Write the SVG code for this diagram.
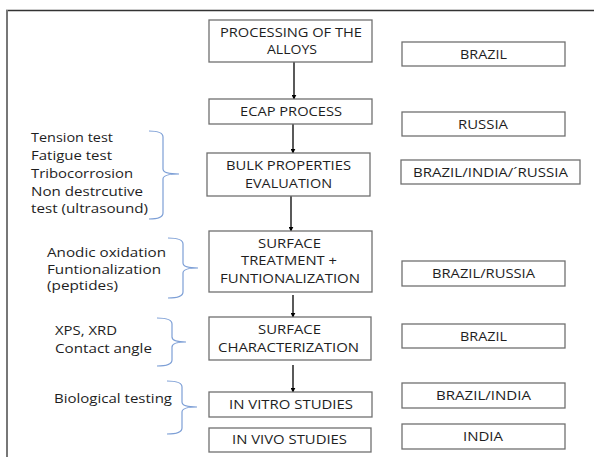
<svg xmlns="http://www.w3.org/2000/svg" width="594" height="457" viewBox="0 0 594 457">
<defs>
<marker id="ah" viewBox="0 0 8 8" refX="7" refY="4" markerWidth="5" markerHeight="5" orient="auto" markerUnits="userSpaceOnUse">
<path d="M0,0 L8,4 L0,8 z" fill="#000"/>
</marker>
<style>
text{font-family:"Open Sans","Liberation Sans",sans-serif;font-size:12.5px;fill:#1e1e1e}
.c{text-anchor:middle}
.box{fill:#fff;stroke:#707070;stroke-width:1.3}
.br{fill:none;stroke:#7d9fd6;stroke-width:1.2}
.ar{stroke:#000;stroke-width:1.3;fill:none;marker-end:url(#ah)}
</style>
</defs>
<rect width="594" height="457" fill="#fff"/>
<g id="frame">
<line x1="6" y1="10.5" x2="594" y2="10.5" stroke="#333" stroke-width="1.5"/>
<line x1="7" y1="10" x2="7" y2="457" stroke="#777" stroke-width="2"/>
</g>
<g id="connectors">
<line class="ar" x1="294" y1="62" x2="294" y2="99"/>
<line class="ar" x1="293" y1="124" x2="293" y2="153"/>
<line class="ar" x1="291" y1="196" x2="291" y2="231"/>
<line class="ar" x1="293" y1="295" x2="293" y2="317"/>
<line class="ar" x1="293" y1="365" x2="293" y2="392"/>
</g>
<g id="n1"><rect class="box" x="209" y="20" width="163" height="42"/>
<text class="c" x="291" y="37" textLength="142" lengthAdjust="spacingAndGlyphs">PROCESSING OF THE</text>
<text class="c" x="292" y="54" textLength="50" lengthAdjust="spacingAndGlyphs">ALLOYS</text></g>
<g id="n2"><rect class="box" x="209" y="99" width="163" height="25"/>
<text class="c" x="291" y="116" textLength="102" lengthAdjust="spacingAndGlyphs">ECAP PROCESS</text></g>
<g id="n3"><rect class="box" x="207" y="153" width="163" height="43"/>
<text class="c" x="288.5" y="170" textLength="125" lengthAdjust="spacingAndGlyphs">BULK PROPERTIES</text>
<text class="c" x="288.5" y="188" textLength="87" lengthAdjust="spacingAndGlyphs">EVALUATION</text></g>
<g id="n4"><rect class="box" x="209" y="231" width="163" height="61"/>
<text class="c" x="289.5" y="248" textLength="63" lengthAdjust="spacingAndGlyphs">SURFACE</text>
<text class="c" x="289" y="265" textLength="96" lengthAdjust="spacingAndGlyphs">TREATMENT +</text>
<text class="c" x="290" y="283" textLength="140" lengthAdjust="spacingAndGlyphs">FUNTIONALIZATION</text></g>
<g id="n5"><rect class="box" x="209" y="317" width="162" height="43"/>
<text class="c" x="289.5" y="334" textLength="63" lengthAdjust="spacingAndGlyphs">SURFACE</text>
<text class="c" x="288.5" y="352" textLength="141" lengthAdjust="spacingAndGlyphs">CHARACTERIZATION</text></g>
<g id="n6"><rect class="box" x="209" y="392" width="163" height="25"/>
<text class="c" x="291" y="409" textLength="124" lengthAdjust="spacingAndGlyphs">IN VITRO STUDIES</text></g>
<g id="n7"><rect class="box" x="209" y="428" width="162" height="24"/>
<text class="c" x="289.5" y="444" textLength="115" lengthAdjust="spacingAndGlyphs">IN VIVO STUDIES</text></g>
<g id="r1"><rect class="box" x="402" y="42" width="163" height="24"/>
<text class="c" x="483.5" y="59" textLength="47" lengthAdjust="spacingAndGlyphs">BRAZIL</text></g>
<g id="r2"><rect class="box" x="402" y="112" width="163" height="24"/>
<text class="c" x="483" y="129" textLength="50" lengthAdjust="spacingAndGlyphs">RUSSIA</text></g>
<g id="r3"><rect class="box" x="401" y="160" width="179" height="24"/>
<text class="c" x="490.5" y="177" textLength="155" lengthAdjust="spacingAndGlyphs">BRAZIL/INDIA/´RUSSIA</text></g>
<g id="r4"><rect class="box" x="402" y="261" width="163" height="25"/>
<text class="c" x="483.5" y="278" textLength="103" lengthAdjust="spacingAndGlyphs">BRAZIL/RUSSIA</text></g>
<g id="r5"><rect class="box" x="402" y="324" width="163" height="24"/>
<text class="c" x="483.5" y="341" textLength="47" lengthAdjust="spacingAndGlyphs">BRAZIL</text></g>
<g id="r6"><rect class="box" x="402" y="383" width="163" height="25"/>
<text class="c" x="483.5" y="400" textLength="95" lengthAdjust="spacingAndGlyphs">BRAZIL/INDIA</text></g>
<g id="r7"><rect class="box" x="402" y="424" width="163" height="25"/>
<text class="c" x="483" y="441" textLength="40" lengthAdjust="spacingAndGlyphs">INDIA</text></g>
<g id="l1">
<text x="31" y="142" textLength="82" lengthAdjust="spacingAndGlyphs">Tension test</text>
<text x="31" y="160" textLength="81" lengthAdjust="spacingAndGlyphs">Fatigue test</text>
<text x="31" y="178" textLength="102" lengthAdjust="spacingAndGlyphs">Tribocorrosion</text>
<text x="31" y="196" textLength="112" lengthAdjust="spacingAndGlyphs">Non destrcutive</text>
<text x="31" y="213" textLength="117" lengthAdjust="spacingAndGlyphs">test (ultrasound)</text>
<path class="br" d="M149,131 Q163,131 163,137 L163,169 Q163,174 179,174 Q163,174 163,179 L163,213 Q163,219 149,219"/>
</g>
<g id="l2">
<text x="47" y="257" textLength="119" lengthAdjust="spacingAndGlyphs">Anodic oxidation</text>
<text x="47" y="274" textLength="114" lengthAdjust="spacingAndGlyphs">Funtionalization</text>
<text x="47" y="290" textLength="71" lengthAdjust="spacingAndGlyphs">(peptides)</text>
<path class="br" d="M168,238 Q183,238 183,244 L183,263 Q183,268 198,268 Q183,268 183,273 L183,292 Q183,298 168,298"/>
</g>
<g id="l3">
<text x="55" y="335" textLength="62" lengthAdjust="spacingAndGlyphs">XPS, XRD</text>
<text x="55" y="353" textLength="97" lengthAdjust="spacingAndGlyphs">Contact angle</text>
<path class="br" d="M157,318 Q172,318 172,324 L172,337 Q172,342 186,342 Q172,342 172,347 L172,360 Q172,366 157,366"/>
</g>
<g id="l4">
<text x="54" y="403" textLength="118" lengthAdjust="spacingAndGlyphs">Biological testing</text>
<path class="br" d="M167,381 Q182,381 182,387 L182,402 Q182,407 197,407 Q182,407 182,412 L182,428 Q182,434 167,434"/>
</g>
</svg>
